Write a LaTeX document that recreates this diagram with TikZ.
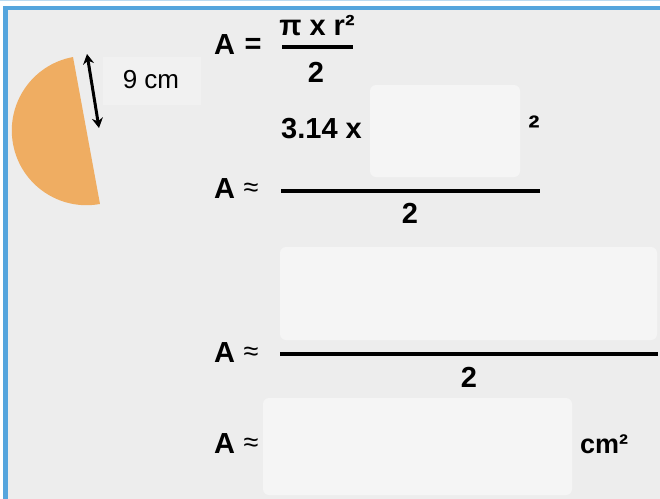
\documentclass[tikz,border=0pt]{standalone}
\usepackage{fontspec}
\setmainfont{Liberation Sans}
\usetikzlibrary{arrows.meta}
\definecolor{bg}{HTML}{EDEDED}
\definecolor{frameblue}{HTML}{55A5DD}
\definecolor{semi}{HTML}{EFAD62}
\definecolor{boxfill}{HTML}{F5F5F5}
\definecolor{labfill}{HTML}{F1F1F1}
\begin{document}
\begin{tikzpicture}[x=1pt,y=-1pt,
  eq/.style={font=\fontsize{29}{32}\selectfont\bfseries, inner sep=0pt, anchor=base west},
  eqc/.style={font=\fontsize{29}{32}\selectfont\bfseries, inner sep=0pt, anchor=base},
  approx/.style={font=\fontsize{27}{30}\selectfont, inner sep=0pt, anchor=center},
  answerbox/.style={fill=boxfill, rounded corners=6pt},
  fracline/.style={line width=3.2pt, line cap=butt}]
\useasboundingbox (0,0) rectangle (660,498);
\fill[white] (0,0) rectangle (660,498);
\draw[frameblue!40, line width=1pt] (0,0.5) -- (660,0.5);
\fill[bg] (5.5,8) rectangle (662,500);
\draw[frameblue, line width=4.5pt] (5.5,502) -- (5.5,8) -- (664,8);
% half disc
\fill[semi] (86.5,130.5) ++(79.6:74.7) arc[start angle=79.6, end angle=259.6, radius=74.7] -- cycle;
% label and arrow
\fill[labfill] (103,57) rectangle (201,105);
\node[font=\fontsize{26}{30}\selectfont, inner sep=0pt, anchor=base] (lab) at (151,88) {9 cm};
\coordinate (arrTop) at (87,54);
\coordinate (arrBot) at (99,128);
\draw[line width=3pt, {Stealth[length=10pt,width=11pt]}-{Stealth[length=10pt,width=11pt]}] (arrTop) -- (arrBot);
% line 1
\node[eq] (A1) at (214,54) {A};
\node[eqc, anchor=center] (eq1) at (253,46) {=};
\node[eqc] (num1) at (317,35) {π x r²};
\coordinate (f1l) at (282,47);
\coordinate (f1r) at (353,47);
\draw[fracline] (f1l) -- (f1r);
\node[eqc] (den1) at (316,82) {2};
% line 2
\node[eq] (n2) at (281,138) {3.14 x};
\fill[answerbox] (370,85) rectangle (520,177);
\node[inner sep=0pt, minimum width=150pt, minimum height=92pt] (box1) at (445,131) {};
\node[font=\fontsize{34}{36}\selectfont\bfseries, inner sep=0pt, anchor=center] (sq2) at (534,128) {²};
\node[eq] (A2) at (214,198) {A};
\node[approx] (ap2) at (251,190) {≈};
\coordinate (f2l) at (281,191);
\coordinate (f2r) at (540,191);
\draw[fracline] (f2l) -- (f2r);
\node[eqc] (den2) at (410,223) {2};
% line 3
\fill[answerbox] (280,247) rectangle (657,340);
\node[inner sep=0pt, minimum width=377pt, minimum height=93pt] (box2) at (468.5,293.5) {};
\node[eq] (A3) at (214,362) {A};
\node[approx] (ap3) at (251,354) {≈};
\coordinate (f3l) at (280,354);
\coordinate (f3r) at (658,354);
\draw[fracline] (f3l) -- (f3r);
\node[eqc] (den3) at (469,387) {2};
% line 4
\fill[answerbox] (263,398) rectangle (572,495);
\node[inner sep=0pt, minimum width=309pt, minimum height=97pt] (box3) at (417.5,446.5) {};
\node[eq] (A4) at (214,453) {A};
\node[approx] (ap4) at (251,445) {≈};
\node[font=\fontsize{27}{30}\selectfont\bfseries, inner sep=0pt, anchor=base west] (unit) at (580,453) {cm²};
\end{tikzpicture}
\end{document}
